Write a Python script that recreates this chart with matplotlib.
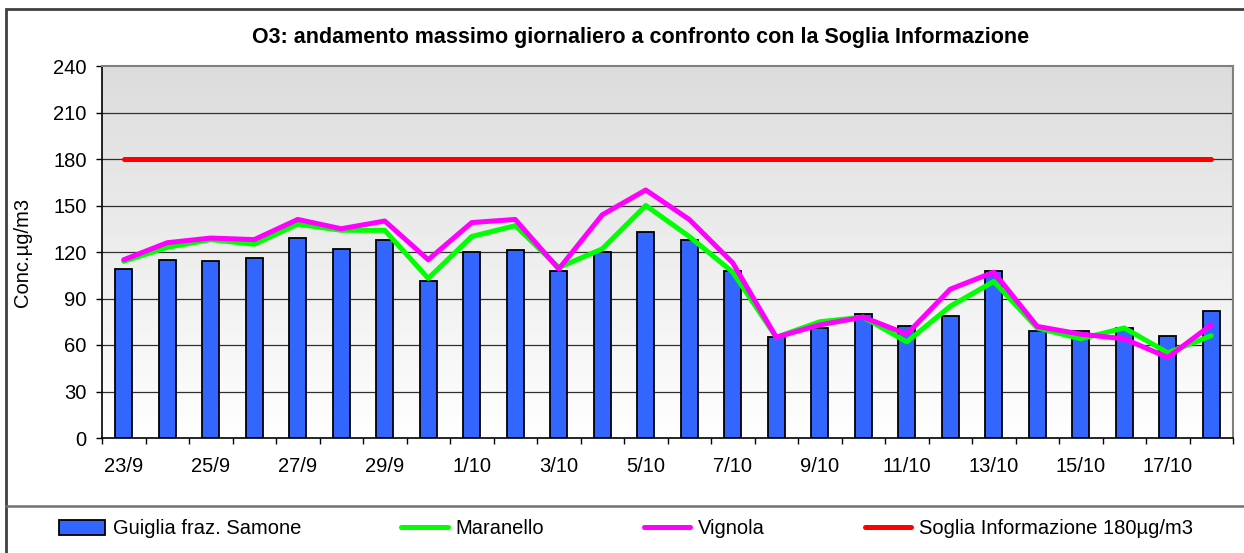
import matplotlib
matplotlib.use('Agg')
import matplotlib.pyplot as plt
import numpy as np
from matplotlib.patches import Rectangle
from matplotlib.lines import Line2D

plt.rcParams['font.family'] = ['Liberation Sans', 'DejaVu Sans']

# dati
giorni = ['23/9', '24/9', '25/9', '26/9', '27/9', '28/9', '29/9', '30/9',
          '1/10', '2/10', '3/10', '4/10', '5/10', '6/10', '7/10', '8/10',
          '9/10', '10/10', '11/10', '12/10', '13/10', '14/10', '15/10',
          '16/10', '17/10', '18/10']
guiglia = [109, 115, 114, 116, 129, 122, 128, 101, 120, 121, 108, 120, 133,
           128, 108, 65, 71, 80, 72, 79, 108, 69, 69, 71, 66, 82]
maranello = [114, 123, 128, 125, 138, 134, 134, 103, 130, 137, 110, 122, 150,
             130, 107, 65, 75, 78, 62, 85, 101, 71, 64, 71, 55, 66]
vignola = [115, 126, 129, 128, 141, 135, 140, 115, 139, 141, 109, 144, 160,
           141, 113, 65, 73, 78, 67, 96, 107, 72, 67, 64, 52, 73]
soglia = [180] * len(giorni)

W, H = 1244, 553
fig = plt.figure(figsize=(W / 100, H / 100), dpi=100)
ax = fig.add_axes([102 / W, 1 - 438 / H, 1131 / W, 372 / H])

x = np.arange(len(giorni))

# sfondo sfumato
grad = np.linspace(0, 1, 256).reshape(-1, 1)
ax.imshow(grad, extent=[-0.5, len(giorni) - 0.5, 0, 240], aspect='auto',
          cmap=matplotlib.colors.LinearSegmentedColormap.from_list('g', ['#ffffff', '#dcdcdc']),
          origin='lower', zorder=0)

for yv in range(30, 240, 30):
    ax.axhline(yv, color='#303030', lw=0.9, zorder=1)

bars = ax.bar(x, guiglia, width=0.39, color='#3366ff', edgecolor='black',
              linewidth=1.3, zorder=2, label='Guiglia fraz. Samone')
l1, = ax.plot(x, maranello, color='#00ff00', lw=3.6, zorder=3,
              solid_joinstyle='round', solid_capstyle='round', label='Maranello')
l2, = ax.plot(x, vignola, color='#ff00ff', lw=3.6, zorder=4,
              solid_joinstyle='round', solid_capstyle='round', label='Vignola')
l3, = ax.plot(x, soglia, color='#ff0000', lw=3.6, zorder=5,
              solid_capstyle='round', label='Soglia Informazione 180µg/m3')

ax.set_xlim(-0.5, len(giorni) - 0.5)
ax.set_ylim(0, 240)
ax.set_yticks(range(0, 241, 30))
ax.set_xticks(x[::2])
ax.set_xticklabels(giorni[::2])
ax.set_xticks(np.arange(-0.5, len(giorni), 1), minor=True)
ax.tick_params(axis='x', which='major', length=0, pad=14, labelsize=14.5)
ax.tick_params(axis='x', which='minor', length=4.5, width=1, direction='out')
ax.tick_params(axis='y', length=4.5, width=1, pad=6.5, labelsize=14.5)

for s in ['top', 'right']:
    ax.spines[s].set_color('#808080')
    ax.spines[s].set_linewidth(1.5)
for s in ['left', 'bottom']:
    ax.spines[s].set_color('black')
    ax.spines[s].set_linewidth(1.2)

ax.set_ylabel('Conc.µg/m3', fontsize=14.5)
ax.yaxis.set_label_coords(-0.062, 0.5)

fig.text(641 / W, 1 - 38 / H,
         'O3: andamento massimo giornaliero a confronto con la Soglia Informazione',
         ha='center', va='center', fontsize=15.5, fontweight='bold')

# cornice
fig.add_artist(Rectangle((6 / W, -0.01), 1.1, 1 - 9 / H + 0.01, transform=fig.transFigure,
                         fill=False, edgecolor='#404040', lw=2))
fig.add_artist(Line2D([6 / W, 1], [1 - 506 / H] * 2, transform=fig.transFigure,
                      color='#707070', lw=1.8))

leg = fig.legend(handles=[bars, l1, l2, l3], loc='center',
                 bbox_to_anchor=(626 / W, 1 - 529 / H), ncol=4, frameon=False,
                 fontsize=14.5, handlelength=2.3, handletextpad=0.4,
                 columnspacing=4.95, borderaxespad=0)

fig.savefig('out.png', dpi=100)
